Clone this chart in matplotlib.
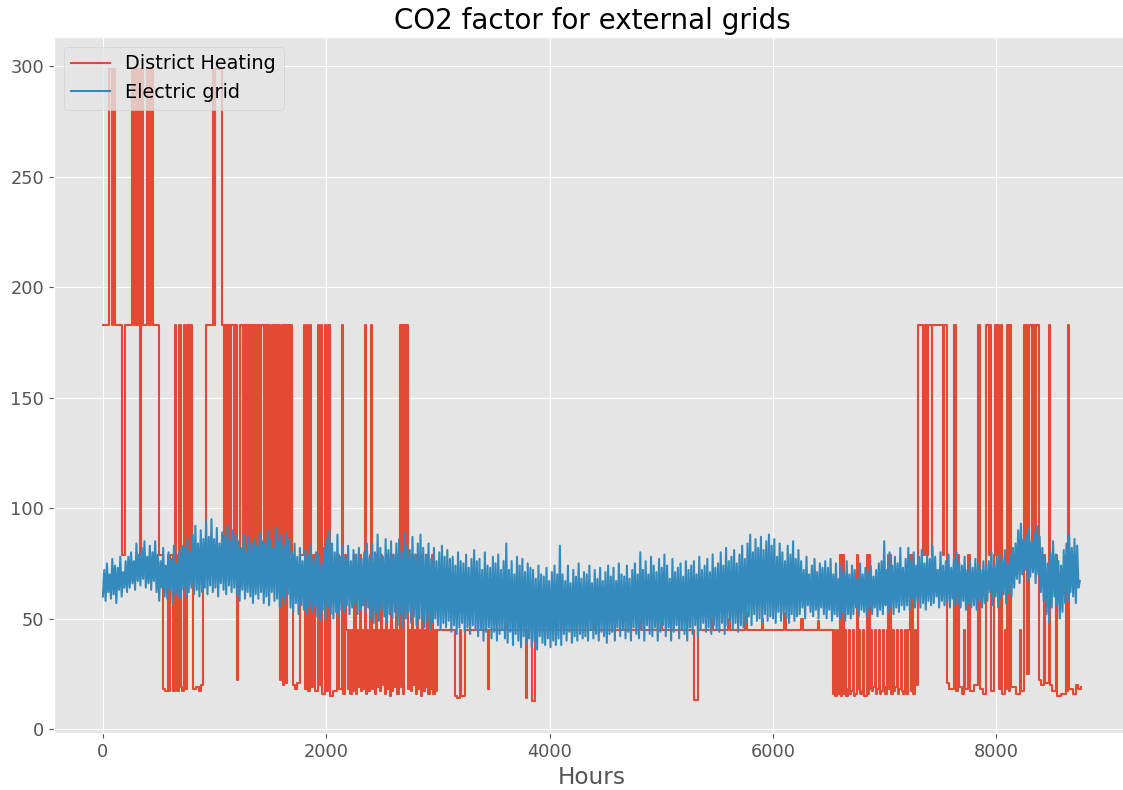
import numpy as np
import matplotlib
matplotlib.use("Agg")
import matplotlib.pyplot as plt

plt.style.use("ggplot")
plt.rcParams["font.family"] = ["DejaVu Sans"]
plt.rcParams["font.size"] = 13.9
plt.rcParams["xtick.labelsize"] = 12.75
plt.rcParams["ytick.labelsize"] = 12.75

# District heating CO2 factor: (hour where a step starts, value)
dh_steps = [
    (0, 183), (55, 299), (80, 183), (86, 299), (108, 183), (170, 79), (200, 183),
    (260, 299), (275, 183), (285, 299), (300, 183), (310, 299), (330, 79), (345, 299),
    (360, 183), (395, 299), (410, 183), (430, 299), (450, 183), (500, 79), (535, 18),
    (560, 17), (580, 79), (590, 17), (600, 79), (625, 17), (645, 183), (655, 79),
    (665, 17), (680, 183), (695, 19), (705, 17), (725, 183), (735, 18), (750, 183),
    (770, 79), (780, 183), (800, 79), (805, 18), (830, 19), (860, 17), (880, 20),
    (895, 79), (920, 183), (990, 299), (1000, 183), (1008, 299), (1065, 183),
    (1080, 79), (1090, 183), (1110, 79), (1120, 183), (1135, 79), (1145, 183),
    (1170, 79), (1180, 183), (1200, 79), (1205, 22), (1212, 79), (1230, 183),
    (1250, 79), (1258, 183), (1275, 79), (1282, 183), (1300, 79), (1310, 183),
    (1330, 79), (1336, 183), (1355, 79), (1362, 183), (1380, 79), (1390, 183),
    (1410, 79), (1420, 183), (1440, 79), (1450, 183), (1470, 79), (1480, 183),
    (1500, 79), (1515, 183), (1535, 79), (1545, 183), (1560, 79), (1568, 183),
    (1585, 22), (1600, 183), (1610, 20), (1625, 183), (1635, 21), (1650, 183),
    (1665, 79), (1675, 183), (1690, 79), (1700, 20), (1720, 18), (1740, 21),
    (1765, 79), (1800, 183), (1812, 18), (1825, 183), (1835, 17), (1850, 183),
    (1860, 19), (1880, 79), (1900, 17), (1925, 183), (1935, 20), (1950, 183),
    (1960, 16), (1985, 183), (1995, 17), (2015, 183), (2030, 15), (2060, 17),
    (2095, 79), (2110, 18), (2140, 183), (2150, 16), (2170, 79),
    (2180, 45), (2192, 18), (2205, 45), (2215, 16), (2228, 45), (2238, 17),
    (2250, 79), (2262, 16), (2275, 45), (2285, 19), (2298, 79), (2308, 17),
    (2320, 45), (2332, 18), (2345, 183), (2355, 16), (2365, 45), (2375, 17),
    (2388, 79), (2400, 183), (2410, 18), (2422, 45), (2432, 16), (2445, 79),
    (2455, 19), (2468, 45), (2478, 17), (2490, 79), (2500, 20), (2512, 45),
    (2522, 16), (2535, 79), (2545, 18), (2558, 45), (2568, 15), (2580, 79),
    (2590, 17), (2602, 45), (2612, 19), (2625, 79), (2635, 16), (2648, 45),
    (2660, 183), (2670, 19), (2680, 183), (2690, 16), (2700, 183), (2712, 79),
    (2720, 183), (2735, 18), (2748, 45), (2758, 17), (2770, 79), (2780, 20),
    (2792, 45), (2802, 16), (2815, 79), (2825, 18), (2838, 45), (2848, 15),
    (2860, 79), (2870, 17), (2882, 45), (2892, 19), (2905, 79), (2915, 16),
    (2928, 45), (2938, 18), (2950, 79), (2960, 16), (2972, 45), (2982, 17),
    (2995, 45), (3150, 15), (3175, 14), (3200, 45),
    (3205, 15), (3240, 45), (3445, 18), (3455, 45), (3600, 48), (3610, 45),
    (3790, 14), (3800, 45), (3840, 12.5), (3870, 45), (4400, 48), (4410, 45),
    (4800, 50), (4815, 45), (5000, 52), (5010, 45), (5290, 13), (5325, 45),
    (5450, 55), (5460, 45), (5600, 50), (5612, 45), (5750, 53), (5765, 45),
    (5900, 50), (5910, 45), (6100, 52), (6120, 45), (6250, 50), (6265, 45),
    (6400, 49), (6410, 45),
    (6535, 16), (6548, 45), (6558, 15), (6572, 45), (6582, 16), (6600, 79),
    (6610, 15), (6622, 79), (6632, 16), (6645, 45), (6655, 15), (6668, 18),
    (6680, 45), (6690, 16), (6702, 17), (6715, 45), (6725, 15), (6738, 16),
    (6750, 79), (6760, 18), (6772, 45), (6782, 16), (6795, 17), (6808, 45),
    (6818, 15), (6840, 79), (6848, 16), (6858, 79), (6866, 18), (6878, 45),
    (6888, 17), (6900, 19), (6912, 45), (6922, 16), (6935, 18), (6948, 45),
    (6958, 16), (6970, 17), (6982, 45), (6992, 19), (7005, 16), (7018, 45),
    (7028, 79), (7038, 18), (7048, 79), (7058, 16), (7072, 45), (7082, 17),
    (7095, 19), (7108, 45), (7118, 16), (7130, 18), (7142, 45), (7152, 17),
    (7165, 16), (7178, 45), (7188, 18), (7200, 16), (7212, 45), (7225, 79),
    (7233, 17), (7245, 79), (7253, 16), (7268, 45), (7278, 20),
    (7300, 183), (7340, 79), (7360, 183), (7380, 79),
    (7390, 183), (7420, 79), (7425, 183), (7520, 79), (7530, 183), (7555, 21),
    (7580, 18), (7625, 183), (7640, 17), (7660, 79), (7670, 19), (7690, 16),
    (7710, 45), (7720, 18), (7750, 79), (7760, 17), (7800, 20), (7840, 183),
    (7850, 18), (7880, 16), (7910, 183), (7930, 79), (7940, 183), (7950, 17),
    (7975, 79), (7985, 183), (8000, 79), (8010, 183), (8025, 18), (8045, 183),
    (8055, 16), (8080, 45), (8090, 18), (8100, 183), (8115, 17), (8125, 183),
    (8135, 19), (8180, 16), (8210, 45), (8220, 17), (8245, 183), (8255, 79),
    (8265, 183), (8275, 25), (8290, 183), (8320, 79), (8330, 183), (8345, 79),
    (8355, 183), (8385, 22), (8400, 20), (8430, 79), (8440, 21), (8470, 183),
    (8480, 20), (8500, 17), (8530, 79), (8540, 15), (8580, 16), (8620, 79),
    (8630, 17), (8640, 183), (8650, 18), (8685, 16), (8710, 20), (8735, 18),
    (8759, 19),
]
dh_hours = [h for h, _ in dh_steps]
dh_values = [v for _, v in dh_steps]

# Electric grid CO2 factor, read every 12 hours
grid_values = [
    60, 72, 58, 75, 62, 70, 59, 77, 61, 74, 57, 73, 63, 78, 60, 71, 64, 76, 62, 78,
    64, 80, 66, 76, 63, 84, 67, 79, 65, 82, 68, 85, 64, 78, 66, 83, 63, 80, 67, 85,
    62, 79, 58, 76, 64, 82, 60, 74, 59, 80, 63, 77, 57, 83, 61, 75, 60, 81, 59, 83,
    63, 82, 60, 86, 62, 80, 64, 88, 61, 92, 63, 84, 60, 90, 62, 86, 64, 94, 61, 87,
    65, 95, 62, 86, 64, 91, 60, 84, 66, 89, 63, 87, 61, 92, 65, 85, 62, 90, 64, 88,
    61, 85, 58, 82, 63, 88, 59, 80, 62, 87, 60, 84, 57, 86, 61, 83, 59, 89, 62, 85,
    57, 84, 60, 90, 56, 86, 62, 82, 58, 91, 59, 85, 55, 88, 60, 83, 57, 89, 61, 86,
    55, 80, 53, 84, 57, 78, 52, 82, 56, 76, 54, 81, 52, 79, 55, 83, 53, 77, 56, 80,
    51, 79, 49, 75, 54, 82, 50, 86, 55, 90, 52, 84, 50, 80, 53, 88, 51, 78, 54, 83,
    53, 78, 56, 83, 52, 76, 55, 81, 57, 79, 52, 82, 54, 77, 56, 80, 53, 84, 55, 78,
    50, 84, 48, 80, 53, 88, 49, 82, 54, 78, 51, 86, 48, 81, 52, 85, 50, 79, 53, 84,
    47, 86, 52, 80, 46, 89, 50, 83, 53, 81, 48, 87, 51, 79, 47, 84, 50, 88, 49, 82,
    46, 79, 49, 84, 45, 77, 48, 82, 50, 76, 47, 80, 45, 83, 48, 78, 46, 81, 49, 77,
    44, 78, 47, 74, 43, 80, 46, 76, 48, 75, 44, 79, 46, 73, 43, 77, 47, 81, 45, 76,
    42, 77, 45, 72, 40, 80, 44, 74, 46, 73, 41, 78, 44, 75, 40, 79, 43, 72, 45, 76,
    41, 84, 39, 72, 44, 76, 38, 70, 43, 78, 40, 74, 37, 77, 42, 71, 39, 75, 41, 73,
    37, 72, 40, 68, 36, 74, 42, 70, 39, 69, 38, 73, 41, 67, 37, 71, 40, 74, 38, 70,
    41, 83, 38, 70, 43, 67, 40, 74, 44, 66, 39, 72, 42, 69, 40, 75, 43, 68, 41, 71,
    42, 70, 40, 74, 45, 66, 41, 72, 43, 68, 40, 73, 44, 67, 42, 71, 39, 74, 43, 69,
    44, 73, 40, 67, 46, 75, 42, 70, 45, 69, 41, 74, 44, 68, 40, 72, 46, 75, 43, 70,
    41, 80, 45, 72, 40, 76, 47, 70, 43, 78, 42, 74, 46, 71, 40, 77, 44, 73, 47, 79,
    42, 74, 46, 68, 40, 77, 44, 71, 47, 73, 41, 75, 45, 69, 43, 76, 40, 72, 46, 74,
    43, 76, 47, 70, 42, 78, 45, 72, 48, 74, 44, 77, 46, 71, 43, 79, 47, 73, 45, 75,
    44, 80, 48, 74, 43, 82, 47, 76, 49, 78, 45, 81, 48, 75, 44, 79, 47, 83, 46, 77,
    48, 84, 51, 88, 47, 80, 52, 86, 49, 82, 50, 87, 48, 81, 52, 85, 49, 88, 51, 83,
    50, 86, 48, 78, 53, 84, 49, 80, 52, 76, 50, 83, 48, 79, 52, 85, 49, 77, 51, 81,
    52, 76, 55, 72, 50, 78, 56, 70, 53, 74, 51, 77, 54, 71, 50, 75, 55, 73, 52, 76,
    50, 73, 54, 77, 49, 70, 52, 75, 51, 68, 50, 74, 53, 71, 49, 76, 52, 70, 50, 74,
    52, 72, 55, 68, 51, 75, 54, 70, 53, 73, 51, 71, 54, 74, 52, 69, 55, 72, 51, 75,
    54, 76, 52, 85, 56, 72, 53, 80, 55, 74, 52, 78, 55, 75, 53, 82, 56, 73, 54, 77,
    56, 82, 54, 76, 59, 80, 55, 74, 58, 78, 55, 81, 57, 75, 54, 79, 58, 77, 56, 83,
    57, 78, 60, 72, 55, 80, 58, 74, 56, 76, 58, 79, 55, 73, 59, 77, 56, 80, 57, 75,
    55, 74, 58, 78, 54, 72, 57, 76, 55, 73, 56, 77, 54, 75, 58, 72, 55, 76, 57, 74,
    58, 76, 62, 80, 56, 74, 60, 78, 55, 79, 59, 77, 61, 81, 57, 75, 62, 79, 60, 82,
    64, 84, 68, 90, 66, 93, 70, 86, 72, 88, 67, 91, 69, 85, 71, 89, 66, 92, 70, 87,
    62, 82, 58, 78, 52, 75, 48, 80, 55, 85, 60, 79, 56, 76, 50, 74, 53, 81, 57, 84,
    58, 88, 62, 82, 60, 86, 57, 83, 64, 67,
]
grid_hours = np.arange(len(grid_values)) * 12

fig = plt.figure(figsize=(11.23, 7.90), dpi=100)
ax = fig.add_axes([54 / 1123, 57 / 790, 1076 / 1123, 696 / 790])

ax.plot(dh_hours, dh_values, drawstyle="steps-post", color="#E24A33",
        lw=1.5, label="District Heating")
ax.plot(grid_hours, grid_values, color="#348ABD", lw=1.5, label="Electric grid")

ax.set_title("CO2 factor for external grids", fontsize=20)
ax.set_xlabel("Hours")
ax.set_xticks([0, 2000, 4000, 6000, 8000])
ax.set_yticks([0, 50, 100, 150, 200, 250, 300])
ax.legend(loc="upper left")

fig.savefig("out.png", dpi=100)
